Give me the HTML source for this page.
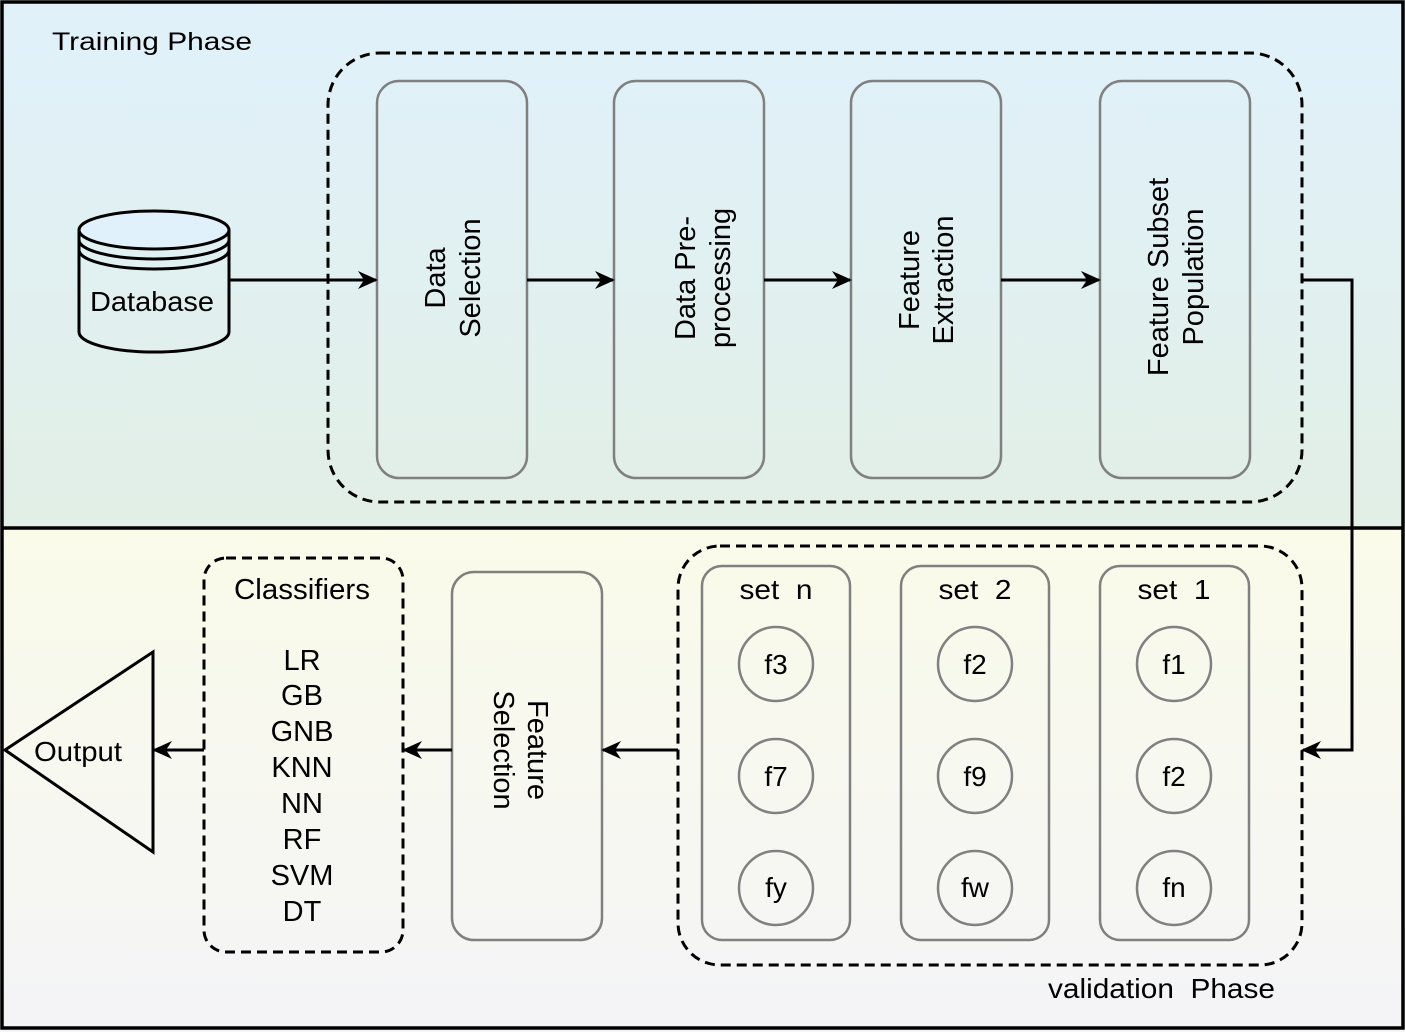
<!DOCTYPE html>
<html><head><meta charset="utf-8"><style>
html,body{margin:0;padding:0;background:#fff;}
svg{display:block;font-family:"Liberation Sans",Arial,sans-serif;}
</style></head><body>
<svg width="1405" height="1032" viewBox="0 0 1405 1032" xmlns="http://www.w3.org/2000/svg">
<defs>
<linearGradient id="gt" x1="0" y1="0" x2="0" y2="1"><stop offset="0" stop-color="#e0f1fb"/><stop offset="1" stop-color="#e2efe6"/></linearGradient>
<linearGradient id="gb" x1="0" y1="0" x2="0" y2="1"><stop offset="0" stop-color="#fafbe9"/><stop offset="1" stop-color="#f4f4f7"/></linearGradient>
<marker id="ah" viewBox="0 0 20 20" refX="18" refY="10" markerWidth="20" markerHeight="20" markerUnits="userSpaceOnUse" orient="auto">
<path d="M0,1 L20,10 L0,19 L6,10 Z" fill="#000"/></marker>
</defs>
<rect x="0" y="0" width="1405" height="528" fill="url(#gt)"/>
<rect x="0" y="528" width="1405" height="504" fill="url(#gb)"/>
<rect x="2" y="2" width="1401" height="1026" fill="none" stroke="#000" stroke-width="3.5"/>
<line x1="2" y1="528" x2="1403" y2="528" stroke="#000" stroke-width="3.5"/>

<text x="52" y="50" font-size="25" textLength="200" lengthAdjust="spacingAndGlyphs">Training Phase</text>

<rect x="328" y="53" width="974" height="449" rx="52" fill="none" stroke="#000" stroke-width="3" stroke-dasharray="10 6"/>

<g fill="none" stroke="#000" stroke-width="3">
<path d="M79,230 L79,332 A75,20 0 0 0 229,332 L229,230"/>
<ellipse cx="154" cy="230" rx="75" ry="19" fill="#e0f1fb"/>
<path d="M79,240 A75,19 0 0 0 229,240"/>
<path d="M79,250 A75,19 0 0 0 229,250"/>
</g>
<text x="152" y="311" font-size="28" text-anchor="middle" textLength="124" lengthAdjust="spacingAndGlyphs">Database</text>

<g fill="none" stroke="#808080" stroke-width="2.5">
<rect x="377" y="81" width="150" height="397" rx="22"/>
<rect x="614" y="81" width="150" height="397" rx="22"/>
<rect x="851" y="81" width="150" height="397" rx="22"/>
<rect x="1100" y="81" width="150" height="397" rx="22"/>
</g>
<g font-size="29" text-anchor="middle">
<text transform="translate(445,278) rotate(-90)">Data</text>
<text transform="translate(480,278) rotate(-90)">Selection</text>
<text transform="translate(695,278) rotate(-90)">Data Pre-</text>
<text transform="translate(730,278) rotate(-90)">processing</text>
<text transform="translate(919,280) rotate(-90)">Feature</text>
<text transform="translate(953,280) rotate(-90)">Extraction</text>
<text transform="translate(1168,277) rotate(-90)">Feature Subset</text>
<text transform="translate(1203,277) rotate(-90)">Population</text>
</g>

<g stroke="#000" stroke-width="3" fill="none">
<line x1="229" y1="280" x2="376" y2="280" marker-end="url(#ah)"/>
<line x1="527" y1="280" x2="613" y2="280" marker-end="url(#ah)"/>
<line x1="764" y1="280" x2="850" y2="280" marker-end="url(#ah)"/>
<line x1="1001" y1="280" x2="1099" y2="280" marker-end="url(#ah)"/>
<path d="M1302,280 L1352,280 L1352,750 L1303,750" marker-end="url(#ah)"/>
</g>

<rect x="678" y="546" width="624" height="419" rx="42" fill="none" stroke="#000" stroke-width="3" stroke-dasharray="10 6"/>
<g fill="none" stroke="#808080" stroke-width="2.5">
<rect x="702" y="566" width="148" height="374" rx="20"/>
<rect x="901" y="566" width="148" height="374" rx="20"/>
<rect x="1100" y="566" width="149" height="374" rx="20"/>
<circle cx="776" cy="664" r="37"/><circle cx="776" cy="776" r="37"/><circle cx="776" cy="888" r="37"/>
<circle cx="975" cy="664" r="37"/><circle cx="975" cy="776" r="37"/><circle cx="975" cy="888" r="37"/>
<circle cx="1174" cy="664" r="37"/><circle cx="1174" cy="776" r="37"/><circle cx="1174" cy="888" r="37"/>
</g>
<g font-size="28" text-anchor="middle">
<text x="776" y="599" xml:space="preserve" textLength="73" lengthAdjust="spacingAndGlyphs">set  n</text>
<text x="975" y="599" xml:space="preserve" textLength="73" lengthAdjust="spacingAndGlyphs">set  2</text>
<text x="1174" y="599" xml:space="preserve" textLength="73" lengthAdjust="spacingAndGlyphs">set  1</text>
<text x="776" y="674">f3</text><text x="776" y="786">f7</text><text x="776" y="897">fy</text>
<text x="975" y="674">f2</text><text x="975" y="786">f9</text><text x="975" y="897">fw</text>
<text x="1174" y="674">f1</text><text x="1174" y="786">f2</text><text x="1174" y="897">fn</text>
</g>
<text x="1048" y="998" font-size="28" textLength="227" lengthAdjust="spacingAndGlyphs" xml:space="preserve">validation  Phase</text>

<rect x="452" y="572" width="150" height="368" rx="22" fill="none" stroke="#808080" stroke-width="2.5"/>
<g font-size="29" text-anchor="middle">
<text transform="translate(528,750) rotate(90)">Feature</text>
<text transform="translate(494,750) rotate(90)">Selection</text>
</g>

<rect x="204" y="558" width="199" height="394" rx="22" fill="none" stroke="#000" stroke-width="3" stroke-dasharray="10 6"/>
<g font-size="29" text-anchor="middle">
<text x="302" y="599" textLength="136" lengthAdjust="spacingAndGlyphs">Classifiers</text>
<text x="302" y="670">LR</text>
<text x="302" y="705">GB</text>
<text x="302" y="741">GNB</text>
<text x="302" y="777">KNN</text>
<text x="302" y="813">NN</text>
<text x="302" y="849">RF</text>
<text x="302" y="885">SVM</text>
<text x="302" y="921">DT</text>
</g>

<path d="M5,750 L153,652 L153,852 Z" fill="none" stroke="#000" stroke-width="3"/>
<text x="34" y="761" font-size="28" textLength="88" lengthAdjust="spacingAndGlyphs">Output</text>

<g stroke="#000" stroke-width="3" fill="none">
<line x1="678" y1="750" x2="603" y2="750" marker-end="url(#ah)"/>
<line x1="452" y1="750" x2="404" y2="750" marker-end="url(#ah)"/>
<line x1="204" y1="750" x2="154" y2="750" marker-end="url(#ah)"/>
</g>
</svg>
</body></html>
